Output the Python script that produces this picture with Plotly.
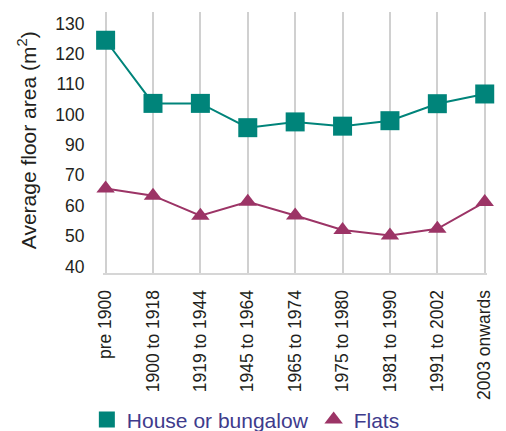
import plotly.graph_objects as go

periods = ["pre 1900", "1900 to 1918", "1919 to 1944", "1945 to 1964", "1965 to 1974",
           "1975 to 1980", "1981 to 1990", "1991 to 2002", "2003 onwards"]
house = [124.5, 103.7, 103.7, 95.7, 97.6, 96.2, 98.0, 103.6, 106.8]
flats = [65.7, 63.3, 56.7, 61.3, 56.8, 52.0, 50.2, 52.4, 61.2]
upper_ticks = [90, 100, 110, 120, 130]
lower_ticks = [40, 50, 60, 70]

TEAL = "#00847a"
PURPLE = "#9c3466"
TXT = "#231f20"
FONT = "Liberation Sans, Arial, sans-serif"

fig = go.Figure()
# connecting lines (no legend entry)
fig.add_trace(go.Scatter(x=periods, y=house, xaxis="x2", yaxis="y2", mode="lines",
                         line=dict(color=TEAL, width=2), showlegend=False,
                         hoverinfo="skip", cliponaxis=False))
fig.add_trace(go.Scatter(x=periods, y=flats, xaxis="x", yaxis="y", mode="lines",
                         line=dict(color=PURPLE, width=2), showlegend=False,
                         hoverinfo="skip", cliponaxis=False))
# markers (with legend entries)
fig.add_trace(go.Scatter(x=periods, y=house, name="House or bungalow", xaxis="x2", yaxis="y2",
                         mode="markers", cliponaxis=False,
                         marker=dict(symbol="square", size=19, color=TEAL)))
fig.add_trace(go.Scatter(x=periods, y=flats, name="Flats", xaxis="x", yaxis="y",
                         mode="markers", cliponaxis=False,
                         marker=dict(symbol="triangle-up", size=16, color=PURPLE)))

split = 0.4323
grid = dict(showgrid=True, gridcolor="#d0d0d0", gridwidth=1.5, zeroline=False, automargin=False)
# the page body adds an 8px offset, so the figure is 8px smaller than the window
fig.update_layout(
    template="none",
    width=498, height=423,
    margin=dict(l=95, r=19, t=4, b=158, autoexpand=False),
    paper_bgcolor="white", plot_bgcolor="white",
    font=dict(family=FONT, color=TXT),
    xaxis=dict(domain=[0, 1], anchor="y", type="category", range=[-0.055, 8.048],
               tickangle=-90, tickfont=dict(size=17.5, color=TXT),
               showline=True, linecolor="#d6d6d6", linewidth=2,
               ticks="outside", ticklen=8, tickcolor="rgba(0,0,0,0)", **grid),
    xaxis2=dict(domain=[0, 1], anchor="y2", matches="x", type="category",
                range=[-0.055, 8.048], showticklabels=False, ticks="", **grid),
    yaxis=dict(domain=[0, split], range=[37.83, 75], tickvals=lower_ticks,
               showgrid=False, zeroline=False, automargin=False, showline=False,
               tickfont=dict(size=17.5, color=TXT),
               ticks="outside", ticklen=14, tickcolor="rgba(0,0,0,0)"),
    yaxis2=dict(domain=[split, 1], range=[85, 133.8], tickvals=upper_ticks,
                showgrid=False, zeroline=False, automargin=False, showline=False,
                tickfont=dict(size=17.5, color=TXT),
                ticks="outside", ticklen=14, tickcolor="rgba(0,0,0,0)"),
    showlegend=True,
    legend=dict(orientation="h", xref="paper", yref="paper",
                x=0.372, xanchor="center", y=-0.563, yanchor="middle",
                bgcolor="rgba(0,0,0,0)",
                font=dict(size=21, color="#3e3b8c"), itemsizing="trace"),
    annotations=[dict(text="Average floor area (m<sup>2</sup>)", textangle=-90,
                      xref="paper", yref="paper", x=-0.197, y=0.51,
                      xanchor="center", yanchor="middle", showarrow=False,
                      font=dict(size=21, color=TXT))],
)

fig.write_html("out.html")
